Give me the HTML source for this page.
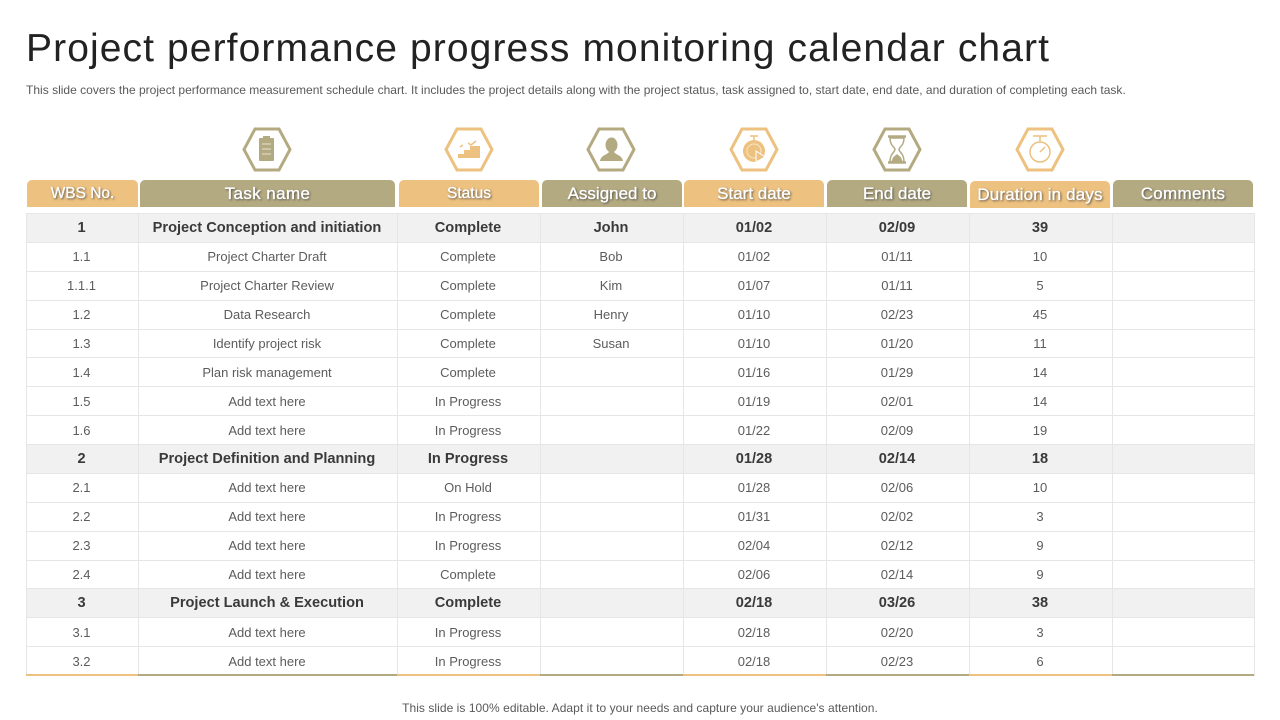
<!DOCTYPE html>
<html lang="en">
<head>
<meta charset="utf-8">
<title>Project performance progress monitoring calendar chart</title>
<style>
html,body{margin:0;padding:0;background:#fff;}
body{width:1280px;height:720px;overflow:hidden;position:relative;font-family:"Liberation Sans",sans-serif;color:#555;}
.title{position:absolute;left:26px;top:26px;font-size:39px;line-height:46px;color:#222;letter-spacing:1.1px;white-space:nowrap;}
.sub{position:absolute;left:26px;top:83px;font-size:12px;line-height:15px;color:#595959;letter-spacing:.012px;white-space:nowrap;}
.foot{position:absolute;left:0;width:1280px;text-align:center;top:701px;font-size:12px;line-height:15px;color:#595959;letter-spacing:.05px;white-space:nowrap;}
.icon{position:absolute;top:127px;width:50px;height:45px;}
.hd{position:absolute;top:180px;height:27px;border-radius:5px 5px 0 0;color:#fff;font-size:17px;line-height:28px;text-align:center;text-shadow:1px 1px 2px #444;-webkit-text-stroke:.3px #fff;white-space:nowrap;}
.o{background:#edc17f;}
.k{background:#b4aa82;}
table{position:absolute;left:26px;top:213px;border-collapse:collapse;table-layout:fixed;width:1228px;}
td{border:1.5px solid #e6e6e6;height:27.4px;padding:0 2px 0 0;text-align:center;font-size:13px;color:#5c5c5c;box-sizing:border-box;}
tr{height:28.875px;}
tr.b td{background:#f1f1f1;font-weight:bold;font-size:14.6px;color:#3a3a3a;}
.rule{position:absolute;left:26px;top:674px;height:2px;}
</style>
</head>
<body>
<div class="title">Project performance progress monitoring calendar chart</div>
<div class="sub">This slide covers the project performance measurement schedule chart. It includes the project details along with the project status, task assigned to, start date, end date, and duration of completing each task.</div>

<svg class="icon" style="left:242px" viewBox="0 0 50 45"><polygon points="13,2 37,2 48,22.5 37,43 13,43 2,22.5" fill="none" stroke="#b4aa82" stroke-width="3"/><rect x="17" y="11" width="15" height="23" rx="1" fill="#b4aa82"/><rect x="21" y="9" width="7" height="4" fill="#b4aa82"/><path d="M20 17h9M20 22h9M20 27h9" stroke="#e6e1cc" stroke-width="1"/></svg>
<svg class="icon" style="left:444px" viewBox="0 0 50 45"><polygon points="13,2 37,2 48,22.5 37,43 13,43 2,22.5" fill="none" stroke="#edc17f" stroke-width="3"/><path d="M14 31v-4h6v-4h6v-4h10v12z" fill="#edc17f"/><path d="M16 20l3-2M24 16l3 2 5-4" fill="none" stroke="#edc17f" stroke-width="1.5"/></svg>
<svg class="icon" style="left:586px" viewBox="0 0 50 45"><polygon points="13,2 37,2 48,22.5 37,43 13,43 2,22.5" fill="none" stroke="#b4aa82" stroke-width="3"/><ellipse cx="25.500" cy="18" rx="6" ry="7.500" fill="#b4aa82"/><path d="M14 34c1-6 7-6 9-9h5c2 3 8 3 9 9z" fill="#b4aa82"/></svg>
<svg class="icon" style="left:729px" viewBox="0 0 50 45"><polygon points="13,2 37,2 48,22.5 37,43 13,43 2,22.5" fill="none" stroke="#edc17f" stroke-width="3"/><circle cx="25" cy="24" r="11" fill="#edc17f"/><circle cx="25" cy="24" r="7" fill="none" stroke="#f8e6c8" stroke-width="1"/><path d="M27 24l9 6-9 5z" fill="#edc17f" stroke="#fff"/><path d="M21 9h8M25 9v4" stroke="#edc17f" stroke-width="1.500"/></svg>
<svg class="icon" style="left:872px" viewBox="0 0 50 45"><polygon points="13,2 37,2 48,22.500 37,43 13,43 2,22.500" fill="none" stroke="#b4aa82" stroke-width="3"/><path d="M16 9.500h18M16 35.500h18" stroke="#b4aa82" stroke-width="2.500"/><path d="M18 11c0 8 5 9 5 11.500s-5 4-5 12h14c0-8-5-9.500-5-12s5-3.500 5-11.500z" fill="none" stroke="#b4aa82" stroke-width="1.500"/><path d="M20 34c0-4 3-5 5-7 2 2 5 3 5 7z" fill="#b4aa82"/></svg>
<svg class="icon" style="left:1015px" viewBox="0 0 50 45"><polygon points="13,2 37,2 48,22.500 37,43 13,43 2,22.5" fill="none" stroke="#edc17f" stroke-width="3"/><circle cx="25" cy="25" r="10" fill="none" stroke="#edc17f" stroke-width="1.500"/><path d="M18 9h14M25 9v6M25 25l5-5" stroke="#edc17f" stroke-width="1.500"/></svg>

<div class="hd o" style="left:27px;width:111px;font-size:15.5px">WBS No.</div>
<div class="hd k" style="left:140px;width:255px;letter-spacing:.4px">Task name</div>
<div class="hd o" style="left:399px;width:140px;font-size:15.5px">Status</div>
<div class="hd k" style="left:542px;width:140px">Assigned to</div>
<div class="hd o" style="left:684px;width:140px">Start date</div>
<div class="hd k" style="left:827px;width:140px">End date</div>
<div class="hd o" style="left:970px;width:140px;top:181px;font-size:17px;letter-spacing:.15px">Duration in days</div>
<div class="hd k" style="left:1113px;width:140px;letter-spacing:.3px">Comments</div>

<table>
<colgroup><col style="width:112px"><col style="width:259px"><col style="width:143px"><col style="width:143px"><col style="width:143px"><col style="width:143px"><col style="width:143px"><col style="width:142px"></colgroup>
<tr class="b"><td>1</td><td>Project Conception and initiation</td><td>Complete</td><td>John</td><td>01/02</td><td>02/09</td><td>39</td><td></td></tr>
<tr><td>1.1</td><td>Project Charter Draft</td><td>Complete</td><td>Bob</td><td>01/02</td><td>01/11</td><td>10</td><td></td></tr>
<tr><td>1.1.1</td><td>Project Charter Review</td><td>Complete</td><td>Kim</td><td>01/07</td><td>01/11</td><td>5</td><td></td></tr>
<tr><td>1.2</td><td>Data Research</td><td>Complete</td><td>Henry</td><td>01/10</td><td>02/23</td><td>45</td><td></td></tr>
<tr><td>1.3</td><td>Identify project risk</td><td>Complete</td><td>Susan</td><td>01/10</td><td>01/20</td><td>11</td><td></td></tr>
<tr><td>1.4</td><td>Plan risk management</td><td>Complete</td><td></td><td>01/16</td><td>01/29</td><td>14</td><td></td></tr>
<tr><td>1.5</td><td>Add text here</td><td>In Progress</td><td></td><td>01/19</td><td>02/01</td><td>14</td><td></td></tr>
<tr><td>1.6</td><td>Add text here</td><td>In Progress</td><td></td><td>01/22</td><td>02/09</td><td>19</td><td></td></tr>
<tr class="b"><td>2</td><td>Project Definition and Planning</td><td>In Progress</td><td></td><td>01/28</td><td>02/14</td><td>18</td><td></td></tr>
<tr><td>2.1</td><td>Add text here</td><td>On Hold</td><td></td><td>01/28</td><td>02/06</td><td>10</td><td></td></tr>
<tr><td>2.2</td><td>Add text here</td><td>In Progress</td><td></td><td>01/31</td><td>02/02</td><td>3</td><td></td></tr>
<tr><td>2.3</td><td>Add text here</td><td>In Progress</td><td></td><td>02/04</td><td>02/12</td><td>9</td><td></td></tr>
<tr><td>2.4</td><td>Add text here</td><td>Complete</td><td></td><td>02/06</td><td>02/14</td><td>9</td><td></td></tr>
<tr class="b"><td>3</td><td>Project Launch &amp; Execution</td><td>Complete</td><td></td><td>02/18</td><td>03/26</td><td>38</td><td></td></tr>
<tr><td>3.1</td><td>Add text here</td><td>In Progress</td><td></td><td>02/18</td><td>02/20</td><td>3</td><td></td></tr>
<tr><td>3.2</td><td>Add text here</td><td>In Progress</td><td></td><td>02/18</td><td>02/23</td><td>6</td><td></td></tr>
</table>

<div class="rule o" style="left:26px;width:112px"></div>
<div class="rule k" style="left:138px;width:259px"></div>
<div class="rule o" style="left:397px;width:143px"></div>
<div class="rule k" style="left:540px;width:143px"></div>
<div class="rule o" style="left:683px;width:143px"></div>
<div class="rule k" style="left:826px;width:143px"></div>
<div class="rule o" style="left:969px;width:143px"></div>
<div class="rule k" style="left:1112px;width:142px"></div>

<div class="foot">This slide is 100% editable. Adapt it to your needs and capture your audience's attention.</div>
</body>
</html>
